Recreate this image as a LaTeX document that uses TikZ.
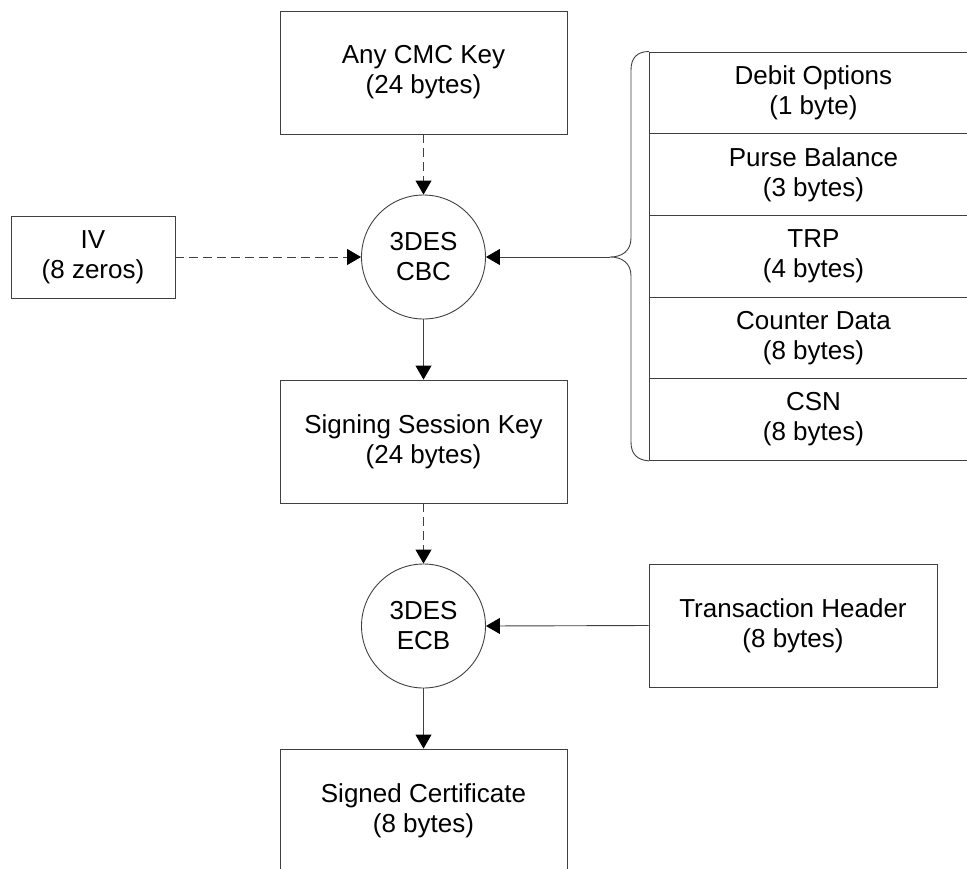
\documentclass[tikz,border=0pt]{standalone}
\usepackage{fontspec}
\setmainfont{Liberation Sans}
\usetikzlibrary{arrows.meta}
\begin{document}
\begin{tikzpicture}[x=1pt,y=-1pt,line width=0.9pt,color=black!75,
  lbl/.style={font=\fontsize{26}{30}\selectfont, text=black, align=center, inner sep=0pt},
  box/.style={lbl, draw, rectangle},
  keybox/.style={box, minimum width=287pt, minimum height=123pt},
  field/.style={box, anchor=north west, minimum width=328pt, minimum height=81.7pt},
  cipher/.style={lbl, draw, circle, minimum size=124pt},
  flow/.style={-{Triangle[length=14pt,width=16pt,color=black]}},
  keyflow/.style={flow, dash pattern=on 9pt off 5pt}]
\useasboundingbox (0,0) rectangle (967,868);

% key derivation
\node[keybox] (cmc) at (423.5,72.5) {Any CMC Key\\(24 bytes)};
\node[box, minimum width=164pt, minimum height=82pt] (iv) at (93,257) {IV\\(8 zeros)};
\node[cipher] (cbc) at (423.5,257) {3DES\\CBC};
\node[keybox] (ssk) at (423.5,441.5) {Signing Session Key\\(24 bytes)};

% data fields fed into the CBC step
\node[field] (f1) at (649,51.5)  {Debit Options\\(1 byte)};
\node[field] (f2) at (649,133.2) {Purse Balance\\(3 bytes)};
\node[field] (f3) at (649,214.9) {TRP\\(4 bytes)};
\node[field] (f4) at (649,296.6) {Counter Data\\(8 bytes)};
\node[field] (f5) at (649,378.3) {CSN\\(8 bytes)};

% brace grouping the fields
\coordinate (tip) at (610,257);
\draw (f1.north west) .. controls (637,51.5) and (631,58) .. (631,70)
  -- (631,238) .. controls (631,251) and (622,257) .. (tip)
  .. controls (622,257) and (631,263) .. (631,276)
  -- (631,442) .. controls (631,454) and (637,460) .. (f5.south west);

% certificate signing
\node[cipher] (ecb) at (423.5,626) {3DES\\ECB};
\node[box, minimum width=288pt, minimum height=123pt] (th) at (793,625.5) {Transaction Header\\(8 bytes)};
\node[keybox] (sc) at (423.5,810.5) {Signed Certificate\\(8 bytes)};

% connectors
\draw[keyflow] (cmc.south) -- (cbc.north);
\draw[keyflow] (iv.east) -- (cbc.west);
\draw[flow] (tip) -- (cbc.east);
\draw[flow] (cbc.south) -- (ssk.north);
\draw[keyflow] (ssk.south) -- (ecb.north);
\draw[flow] (th.west) -- (ecb.east);
\draw[flow] (ecb.south) -- (sc.north);
\end{tikzpicture}
\end{document}
